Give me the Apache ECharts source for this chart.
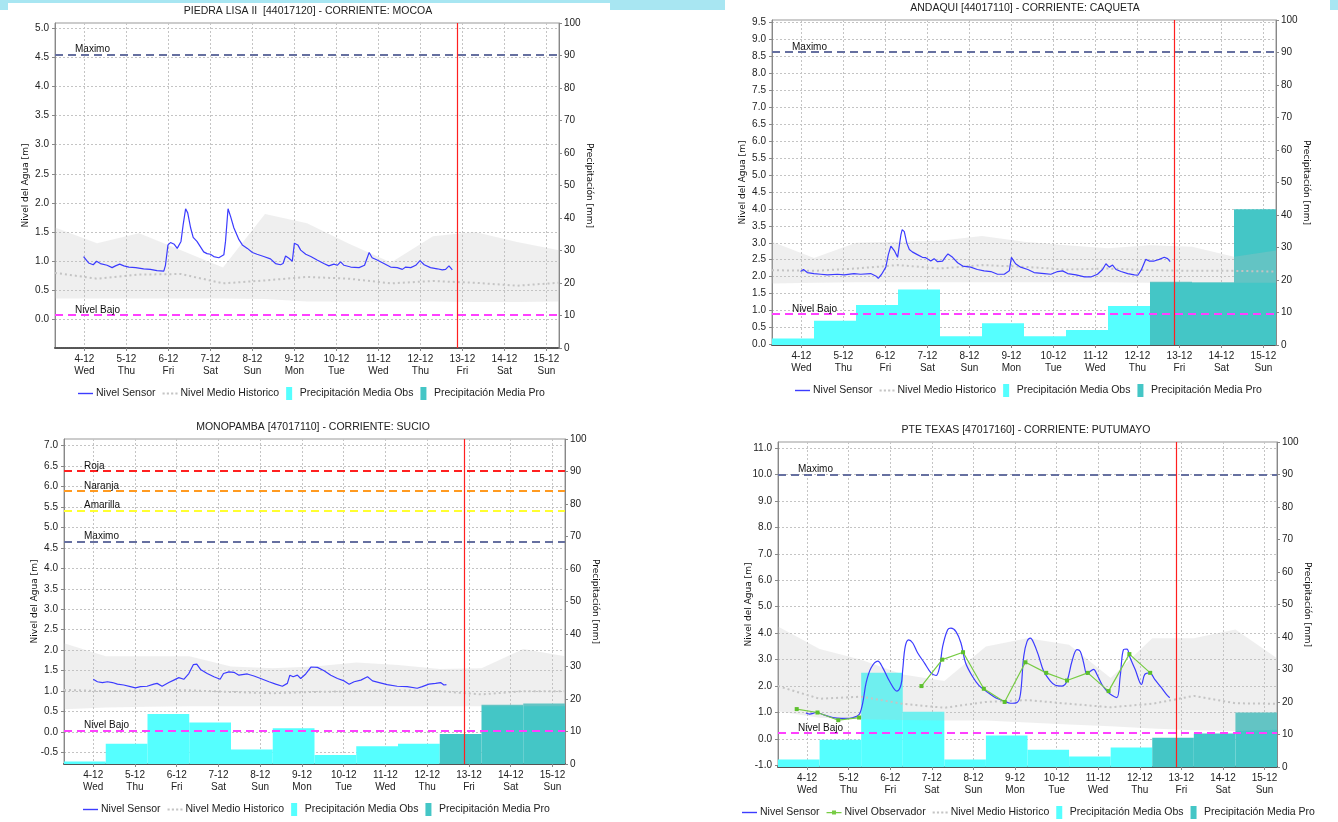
<!DOCTYPE html>
<html><head><meta charset="utf-8">
<script src="https://cdn.jsdelivr.net/npm/echarts@6/dist/echarts.min.js"></script>
<style>
html,body{margin:0;padding:0;background:#fff;width:1338px;height:822px;overflow:hidden;position:relative}
.p{position:absolute;width:669px;height:411px}
.hb{position:absolute;background:#a8e6f2}
</style></head><body>
<div class="hb" style="left:0;top:0;width:610px;height:3px"></div>
<div class="hb" style="left:0;top:0;width:8px;height:10px"></div>
<div class="hb" style="left:610px;top:0;width:115px;height:10px"></div>
<div class="hb" style="left:1330px;top:0;width:8px;height:10px"></div>
<div id="c1" class="p" style="left:0;top:0"></div>
<div id="c2" class="p" style="left:669px;top:0"></div>
<div id="c3" class="p" style="left:0;top:411px"></div>
<div id="c4" class="p" style="left:669px;top:411px"></div>
<script>
// ---------- shared axis data ----------
const X_MIN = 3.3, X_MAX = 15.3, NOW = 12.88;
const TICK_DAYS = [4,5,6,7,8,9,10,11,12,13,14,15];
const TICK_DATES = ['4-12','5-12','6-12','7-12','8-12','9-12','10-12','11-12','12-12','13-12','14-12','15-12'];
const TICK_WEEKDAYS = ['Wed','Thu','Fri','Sat','Sun','Mon','Tue','Wed','Thu','Fri','Sat','Sun'];
const HIST_DAYS = [3.3,4.3,5.3,6.3,7.3,8.3,9.3,10.3,11.3,12.3,13.3,14.3,15.3];
const RAIN_OBS_STARTS = [3.3,4.3,5.3,6.3,7.3,8.3,9.3,10.3,11.3];
const RAIN_PRO_STARTS = [12.3,13.3,14.3];
const PRECIP_TICKS = [0,10,20,30,40,50,60,70,80,90,100];

// ---------- panel 1: PIEDRA LISA II ----------
const p1Title = 'PIEDRA LISA II  [44017120] - CORRIENTE: MOCOA';
const p1LevelTicks = [0,0.5,1,1.5,2,2.5,3,3.5,4,4.5,5];
const p1Sensor = [[3.98,1.08],[4.10,0.97],[4.21,0.94],[4.29,1.00],[4.38,0.96],[4.54,0.93],[4.66,0.89],[4.74,0.92],[4.84,0.95],[4.94,0.92],[5.06,0.90],[5.22,0.89],[5.41,0.87],[5.57,0.86],[5.73,0.84],[5.89,0.83],[5.93,0.93],[5.99,1.28],[6.05,1.32],[6.14,1.29],[6.21,1.22],[6.25,1.19],[6.30,1.34],[6.35,1.62],[6.41,1.90],[6.46,1.83],[6.53,1.57],[6.59,1.41],[6.68,1.34],[6.76,1.25],[6.84,1.16],[6.92,1.13],[7.00,1.12],[7.08,1.08],[7.20,1.06],[7.32,1.11],[7.36,1.34],[7.42,1.90],[7.48,1.77],[7.56,1.57],[7.68,1.37],[7.76,1.28],[7.88,1.22],[8.00,1.15],[8.11,1.12],[8.27,1.08],[8.43,1.04],[8.55,0.96],[8.67,0.94],[8.73,0.96],[8.79,1.09],[8.87,1.05],[8.95,1.00],[9.00,1.31],[9.08,1.28],[9.15,1.19],[9.27,1.12],[9.39,1.08],[9.54,1.02],[9.70,0.96],[9.82,0.92],[9.94,0.95],[10.02,0.93],[10.10,0.99],[10.18,0.93],[10.34,0.90],[10.54,0.89],[10.67,0.93],[10.78,1.15],[10.85,1.06],[10.97,1.02],[11.13,0.96],[11.29,0.90],[11.45,0.89],[11.57,0.86],[11.65,0.90],[11.77,0.89],[11.89,0.93],[11.99,1.01],[12.09,0.94],[12.24,0.89],[12.40,0.87],[12.52,0.85],[12.60,0.86],[12.68,0.92],[12.76,0.85]];
const p1BandUpper = [1.58,1.31,1.48,1.19,0.89,1.81,1.65,1.30,0.98,1.43,1.50,1.33,1.19];
const p1BandLower = [0.36,0.36,0.36,0.36,0.36,0.35,0.31,0.31,0.31,0.31,0.30,0.30,0.31];
const p1Mean = [0.80,0.70,0.77,0.78,0.62,0.67,0.73,0.70,0.62,0.66,0.63,0.58,0.63];
const p1RainObs = [0,0,0,0,0,0,0,0,0];
const p1RainPro = [0,0,0];
const p1Levels = [{name:'Maximo', value:4.55, color:'#6670a0'},{name:'Nivel Bajo', value:0.08, color:'#ff40ff'}];

// ---------- panel 2: ANDAQUI ----------
const p2Title = 'ANDAQUI [44017110] - CORRIENTE: CAQUETA';
const p2LevelTicks = [0,0.5,1,1.5,2,2.5,3,3.5,4,4.5,5,5.5,6,6.5,7,7.5,8,8.5,9,9.5];
const p2Sensor = [[3.98,2.15],[4.05,2.21],[4.14,2.12],[4.30,2.09],[4.46,2.07],[4.62,2.05],[4.86,2.07],[5.02,2.05],[5.25,2.09],[5.41,2.07],[5.65,2.09],[5.77,2.02],[5.83,1.95],[5.91,2.07],[6.01,2.28],[6.07,2.65],[6.13,2.90],[6.17,2.93],[6.22,2.75],[6.29,2.57],[6.33,2.60],[6.37,3.24],[6.40,3.39],[6.45,3.33],[6.51,2.99],[6.57,2.80],[6.64,2.73],[6.76,2.65],[6.88,2.57],[6.96,2.56],[7.08,2.46],[7.16,2.53],[7.24,2.44],[7.36,2.46],[7.44,2.60],[7.49,2.67],[7.60,2.57],[7.72,2.41],[7.84,2.31],[8.03,2.28],[8.19,2.21],[8.35,2.17],[8.51,2.15],[8.67,2.07],[8.83,2.07],[8.95,2.17],[9.00,2.57],[9.04,2.60],[9.10,2.38],[9.22,2.28],[9.39,2.21],[9.54,2.12],[9.78,2.09],[9.94,2.07],[10.10,2.15],[10.22,2.17],[10.34,2.09],[10.54,2.05],[10.74,1.99],[10.89,1.99],[11.05,2.07],[11.17,2.21],[11.25,2.38],[11.33,2.28],[11.41,2.34],[11.49,2.21],[11.61,2.15],[11.77,2.09],[11.93,2.05],[12.01,2.04],[12.09,2.19],[12.20,2.51],[12.28,2.46],[12.40,2.46],[12.52,2.51],[12.64,2.57],[12.72,2.53],[12.78,2.44]];
const p2BandUpper = [3.03,2.55,3.00,3.03,3.06,3.20,3.03,2.93,2.84,2.93,2.88,2.59,2.77];
const p2BandLower = [1.80,1.82,1.83,1.83,1.83,1.83,1.83,1.83,1.83,1.82,1.82,1.82,1.82];
const p2Mean = [2.19,2.17,2.24,2.34,2.24,2.34,2.29,2.21,2.24,2.19,2.17,2.17,2.15];
const p2RainObs = [2.0,7.5,12.3,17.1,2.7,6.7,2.7,4.6,12.0];
const p2RainPro = [19.5,19.3,41.8];
const p2Levels = [{name:'Maximo', value:8.63, color:'#6670a0'},{name:'Nivel Bajo', value:0.89, color:'#ff40ff'}];

// ---------- panel 3: MONOPAMBA ----------
const p3Title = 'MONOPAMBA [47017110] - CORRIENTE: SUCIO';
const p3LevelTicks = [-0.5,0,0.5,1,1.5,2,2.5,3,3.5,4,4.5,5,5.5,6,6.5,7];
const p3Sensor = [[4.00,1.29],[4.10,1.23],[4.22,1.21],[4.34,1.23],[4.46,1.21],[4.58,1.17],[4.73,1.15],[4.89,1.11],[5.01,1.08],[5.13,1.11],[5.29,1.12],[5.45,1.17],[5.53,1.19],[5.65,1.12],[5.81,1.21],[5.93,1.27],[6.05,1.33],[6.17,1.29],[6.29,1.43],[6.40,1.65],[6.48,1.66],[6.57,1.53],[6.73,1.43],[6.89,1.35],[7.04,1.29],[7.12,1.43],[7.25,1.47],[7.37,1.46],[7.49,1.39],[7.69,1.42],[7.85,1.37],[8.01,1.31],[8.21,1.23],[8.37,1.17],[8.53,1.12],[8.65,1.19],[8.71,1.39],[8.79,1.35],[8.89,1.39],[8.97,1.31],[9.09,1.42],[9.22,1.59],[9.37,1.58],[9.53,1.50],[9.69,1.39],[9.85,1.31],[10.01,1.25],[10.13,1.17],[10.25,1.23],[10.41,1.27],[10.57,1.35],[10.69,1.25],[10.85,1.21],[11.04,1.16],[11.28,1.12],[11.52,1.11],[11.76,1.07],[11.88,1.11],[12.04,1.17],[12.20,1.19],[12.32,1.21],[12.40,1.15],[12.46,1.16]];
const p3BandUpper = [2.17,1.85,1.85,1.85,1.60,1.56,1.60,1.70,1.64,1.54,1.56,2.03,1.85];
const p3BandLower = [0.56,0.60,0.62,0.63,0.63,0.63,0.63,0.63,0.63,0.63,0.63,0.63,0.63];
const p3Mean = [1.03,1.00,1.02,1.02,0.98,0.95,0.98,1.00,1.02,1.00,0.92,1.00,1.00];
const p3RainObs = [0.8,6.2,15.4,12.8,4.5,11.0,2.8,5.5,6.2];
const p3RainPro = [9.2,18.2,18.6];
const p3Levels = [{name:'Roja', value:6.38, color:'#ff2020'},{name:'Naranja', value:5.89, color:'#ff9a20'},{name:'Amarilla', value:5.41, color:'#ffff30'},{name:'Maximo', value:4.65, color:'#6670a0'},{name:'Nivel Bajo', value:0.04, color:'#ff40ff'}];

// ---------- panel 4: PTE TEXAS ----------
const p4Title = 'PTE TEXAS [47017160] - CORRIENTE: PUTUMAYO';
const p4LevelTicks = [-1,0,1,2,3,4,5,6,7,8,9,10,11];
const p4Sensor = [[3.97,0.98],[4.06,0.94],[4.22,1.00],[4.42,0.90],[4.62,0.81],[4.82,0.78],[5.02,0.78],[5.18,0.85],[5.26,0.94],[5.34,1.38],[5.42,2.13],[5.54,2.69],[5.70,2.94],[5.82,2.69],[5.98,2.19],[6.16,1.81],[6.26,2.06],[6.30,2.63],[6.36,3.50],[6.44,3.75],[6.54,3.63],[6.66,3.25],[6.82,2.88],[6.98,2.50],[7.10,2.40],[7.19,2.75],[7.26,3.50],[7.38,4.13],[7.46,4.19],[7.58,4.06],[7.70,3.63],[7.81,2.88],[7.97,2.38],[8.13,2.03],[8.33,1.78],[8.53,1.56],[8.73,1.44],[8.89,1.35],[9.05,1.38],[9.13,1.69],[9.21,3.13],[9.29,3.69],[9.37,3.81],[9.45,3.63],[9.57,3.13],[9.69,2.56],[9.85,2.19],[9.97,2.03],[10.13,2.00],[10.25,2.19],[10.37,2.94],[10.49,3.38],[10.57,3.31],[10.65,2.88],[10.73,2.44],[10.81,2.56],[10.89,2.63],[10.97,2.44],[11.09,2.06],[11.21,1.81],[11.33,1.65],[11.45,1.56],[11.53,2.38],[11.61,3.38],[11.69,3.40],[11.77,3.06],[11.89,2.63],[12.04,2.06],[12.12,2.44],[12.24,2.50],[12.36,2.25],[12.52,1.94],[12.64,1.69],[12.72,1.56]];
const p4ObsTimes = [3.75,4.25,4.75,5.25,5.75,6.75,7.25,7.75,8.25,8.75,9.25,9.75,10.25,10.75,11.25,11.75,12.25];
const p4ObsValues = [1.13,1.00,0.71,0.81,null,2.00,3.00,3.28,1.90,1.40,2.90,2.50,2.21,2.50,1.81,3.21,2.50];
const p4BandUpper = [4.25,3.40,3.00,2.44,2.19,3.50,3.81,3.56,2.31,3.81,3.81,4.14,3.05];
const p4BandLower = [1.05,0.80,0.75,0.72,0.70,0.70,0.62,0.55,0.48,0.40,0.33,0.30,0.35];
const p4Mean = [2.00,1.52,1.60,1.33,1.18,1.40,1.47,1.33,1.20,1.33,1.63,1.35,1.33];
const p4RainObs = [2.3,8.4,29.0,17.0,2.3,9.7,5.3,3.2,6.0];
const p4RainPro = [9.0,10.3,16.8];
const p4Levels = [{name:'Maximo', value:10.0, color:'#6670a0'},{name:'Nivel Bajo', value:0.22, color:'#ff40ff'}];

// ---------- styling ----------
const FONT = "'Liberation Sans',Arial,sans-serif";
const NAME_FONT = "'DejaVu Sans',Verdana,sans-serif";
const C_SENSOR = '#3c3cff', C_OBSV = '#77cc44', C_MEAN = '#c4c4c4', C_BAND = 'rgba(190,190,190,0.25)';
const C_OBS = '#55ffff', C_PRO = '#44c6c6', C_NOW = '#ff2020', GRID_C = '#c4c4c4';
const RECT_ICON = 'path://M0,0H6V13H0Z';
const LINE_ICON = 'path://M0,0H15V1.4H0Z';
const DOT_ICON = 'path://M0,0H2V2H0Z M4,0H6V2H4Z M8,0H10V2H8Z M12,0H14V2H12Z';
const OBSV_ICON = 'path://M0,1.5H15V2.7H0Z M5.5,0H9.5V4H5.5Z';

function barSeries(name, starts, values, color) {
  return {
    type: 'custom', name, yAxisIndex: 1, z: 1, silent: true,
    itemStyle: { color },
    data: starts.map((s, i) => [s, values[i]]),
    encode: { x: 0, y: 1 },
    renderItem: (params, api) => {
      const s = api.value(0), v = api.value(1);
      if (!v) return null;
      const a = api.coord([s, v]);
      const b = api.coord([s + 1, 0]);
      return { type: 'rect', shape: { x: a[0], y: a[1], width: b[0] - a[0], height: b[1] - a[1] }, style: { fill: color } };
    }
  };
}

function buildOption(p) {
  const series = [];
  series.push(barSeries('Precipitación Media Obs', RAIN_OBS_STARTS, p.rainObs, C_OBS));
  series.push(barSeries('Precipitación Media Pro', RAIN_PRO_STARTS, p.rainPro, C_PRO));
  series.push({
    type: 'custom', name: 'Rango Historico', z: 2, silent: true,
    data: HIST_DAYS.map((d, i) => [d, p.bandUpper[i], p.bandLower[i]]),
    encode: { x: 0, y: [1, 2] },
    renderItem: (params, api) => {
      if (params.dataIndex !== 0) return null;
      const up = HIST_DAYS.map((d, i) => api.coord([d, p.bandUpper[i]]));
      const lo = HIST_DAYS.map((d, i) => api.coord([d, p.bandLower[i]])).reverse();
      return { type: 'polygon', shape: { points: up.concat(lo) }, style: { fill: C_BAND } };
    }
  });
  series.push({
    type: 'line', name: 'Nivel Medio Historico', z: 3, symbol: 'none', showSymbol: false, silent: true,
    data: HIST_DAYS.map((d, i) => [d, p.mean[i]]),
    lineStyle: { color: C_MEAN, width: 2, type: [2, 3] }, itemStyle: { color: C_MEAN }
  });
  const mlData = p.levels.map(l => ({
    yAxis: l.value,
    lineStyle: { color: l.color, type: [8, 5], width: 2 },
    label: { show: true, formatter: l.name, position: 'insideStartTop', distance: 1, offset: [19, 1],
             color: '#111', fontSize: 10, fontFamily: FONT }
  }));
  series.push({
    type: 'line', name: 'Nivel Sensor', z: 5, symbol: 'none', showSymbol: false, silent: true,
    smooth: p.smooth || false,
    data: p.sensor, lineStyle: { color: C_SENSOR, width: 1.2 }, itemStyle: { color: C_SENSOR },
    markLine: { silent: true, symbol: ['none', 'none'], animation: false, data: mlData }
  });
  if (p.obsTimes) {
    series.push({
      type: 'line', name: 'Nivel Observador', z: 6, symbol: 'rect', symbolSize: 4, showSymbol: true,
      connectNulls: false, silent: true,
      data: p.obsTimes.map((t, i) => [t, p.obsValues[i]]),
      lineStyle: { color: C_OBSV, width: 1.2 }, itemStyle: { color: '#5cc02c' }
    });
  }
  // "now" marker line on its own carrier series, drawn above everything
  series.push({
    type: 'line', name: 'Ahora', z: 8, data: [], silent: true, symbol: 'none',
    markLine: { silent: true, symbol: ['none', 'none'], animation: false,
      data: [{ xAxis: NOW, lineStyle: { color: C_NOW, type: 'solid', width: 1.2, opacity: 1 }, label: { show: false } }] }
  });

  const legendData = [{ name: 'Nivel Sensor', icon: LINE_ICON }];
  if (p.obsTimes) legendData.push({ name: 'Nivel Observador', icon: OBSV_ICON, itemStyle: { color: C_OBSV } });
  legendData.push({ name: 'Nivel Medio Historico', icon: DOT_ICON },
    { name: 'Precipitación Media Obs', icon: RECT_ICON },
    { name: 'Precipitación Media Pro', icon: RECT_ICON });

  return {
    animation: false,
    textStyle: { fontFamily: FONT },
    graphic: [{ type: 'text', x: p.titleX, y: p.titleY, silent: true,
      style: { text: p.title, textAlign: 'center', textVerticalAlign: 'middle', fontFamily: FONT, fontSize: 10.5, fill: '#222' } }],
    legend: {
      left: p.legendLeft, top: p.legendTop, padding: 0, width: 660, itemWidth: 15, itemHeight: 13, itemGap: 7, selectedMode: false,
      textStyle: { fontFamily: FONT, fontSize: 10.5, color: '#222', padding: [0, 0, 0, -2] },
      data: legendData
    },
    grid: { left: p.grid[0], top: p.grid[1], width: p.grid[2], height: p.grid[3], show: true,
            borderColor: '#999', borderWidth: 1, backgroundColor: 'transparent', outerBoundsMode: 'none', containLabel: false },
    xAxis: {
      type: 'value', min: X_MIN, max: X_MAX,
      axisLine: { show: true, onZero: false, lineStyle: { color: '#555', width: 2, type: [1, 1] } },
      axisTick: { show: true, customValues: TICK_DAYS, length: 3, lineStyle: { color: '#888' } },
      axisLabel: { customValues: TICK_DAYS, margin: 5, lineHeight: 12, fontSize: 10, color: '#222', fontFamily: FONT,
        formatter: v => { const i = TICK_DAYS.indexOf(Math.round(v)); return TICK_DATES[i] + '\n' + TICK_WEEKDAYS[i]; } },
      splitLine: { show: true, lineStyle: { color: GRID_C, type: [2, 2], width: 1 } }
    },
    yAxis: [{
      type: 'value', position: 'left', min: p.yMin, max: p.yMax,
      name: 'Nivel del Agua [m]', nameLocation: 'middle', nameGap: 25, nameRotate: 90, nameMoveOverlap: false,
      nameTextStyle: { fontFamily: NAME_FONT, fontSize: 9, color: '#111' },
      axisLine: { show: true, onZero: false, lineStyle: { color: '#888' } },
      axisTick: { show: true, customValues: p.levelTicks, length: 3, lineStyle: { color: '#888' } },
      axisLabel: { customValues: p.levelTicks, formatter: v => v.toFixed(1), margin: 6, fontSize: 10, color: '#222', fontFamily: FONT },
      splitLine: { show: true, lineStyle: { color: GRID_C, type: [2, 2], width: 1 } }
    }, {
      type: 'value', position: 'right', min: 0, max: 100, interval: 10,
      name: 'Precipitación [mm]', nameLocation: 'middle', nameGap: 26, nameRotate: -90, nameMoveOverlap: false,
      nameTextStyle: { fontFamily: NAME_FONT, fontSize: 9, color: '#111' },
      axisLine: { show: true, onZero: false, lineStyle: { color: '#888' } },
      axisTick: { show: true, length: 3, lineStyle: { color: '#888' } },
      axisLabel: { customValues: PRECIP_TICKS, margin: 5, fontSize: 10, color: '#222', fontFamily: FONT },
      splitLine: { show: false }
    }],
    series
  };
}

const panels = [
  { el: 'c1', title: p1Title, titleX: 308, titleY: 11, grid: [55, 23, 504, 325], yMin: -0.49, yMax: 5.09,
    levelTicks: p1LevelTicks, sensor: p1Sensor, bandUpper: p1BandUpper, bandLower: p1BandLower, mean: p1Mean,
    rainObs: p1RainObs, rainPro: p1RainPro, levels: p1Levels, legendLeft: 78, legendTop: 387 },
  { el: 'c2', title: p2Title, titleX: 356, titleY: 8, grid: [103, 20, 504, 325], yMin: -0.02, yMax: 9.58,
    levelTicks: p2LevelTicks, sensor: p2Sensor, bandUpper: p2BandUpper, bandLower: p2BandLower, mean: p2Mean,
    rainObs: p2RainObs, rainPro: p2RainPro, levels: p2Levels, legendLeft: 126, legendTop: 384 },
  { el: 'c3', title: p3Title, titleX: 313, titleY: 16, grid: [64, 28, 501, 325], yMin: -0.78, yMax: 7.16,
    levelTicks: p3LevelTicks, sensor: p3Sensor, bandUpper: p3BandUpper, bandLower: p3BandLower, mean: p3Mean,
    rainObs: p3RainObs, rainPro: p3RainPro, levels: p3Levels, legendLeft: 83, legendTop: 392 },
  { el: 'c4', title: p4Title, titleX: 357, titleY: 19, grid: [109, 31, 499, 325], yMin: -1.06, yMax: 11.23,
    levelTicks: p4LevelTicks, sensor: p4Sensor, bandUpper: p4BandUpper, bandLower: p4BandLower, mean: p4Mean,
    rainObs: p4RainObs, rainPro: p4RainPro, levels: p4Levels, legendLeft: 73, legendTop: 395,
    obsTimes: p4ObsTimes, obsValues: p4ObsValues, smooth: 0.35 }
];

panels.forEach(p => {
  const chart = echarts.init(document.getElementById(p.el), null, { renderer: 'canvas' });
  chart.setOption(buildOption(p));
});
</script>
</body></html>
